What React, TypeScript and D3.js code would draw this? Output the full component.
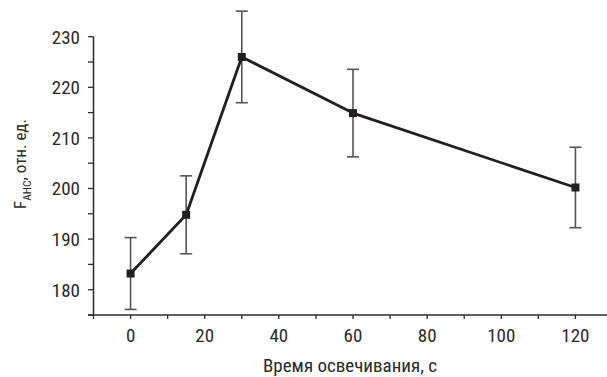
import React from "react";
import * as d3 from "d3";

// Irradiation time, s
const times = [0, 15, 30, 60, 120];
// Mean F_AHC, rel. units
const means = [183.2, 194.8, 226.0, 214.9, 200.2];
// Error bar half-widths
const errors = [7.1, 7.7, 9.05, 8.65, 7.95];

const yMajorTicks = [180, 190, 200, 210, 220, 230];
const yMinorTicks = [175, 185, 195, 205, 215, 225];
const xLabelTicks = [0, 20, 40, 60, 80, 100, 120];
const xMinorTicks = [-10, 10, 30, 50, 70, 90, 110];

const W = 607;
const H = 377;
const FONT = "'Liberation Sans Narrow', 'Arial Narrow', 'Roboto Condensed', 'Liberation Sans', sans-serif";

export default function App() {
  const x = d3.scaleLinear().domain([-10, 130]).range([93.5, 612.5]);
  const y = d3.scaleLinear().domain([175, 230]).range([315, 36.7]);

  const pts = times.map((t, i) => ({ t, m: means[i], e: errors[i] }));
  const line = d3
    .line<{ t: number; m: number }>()
    .x((d) => x(d.t))
    .y((d) => y(d.m));

  const axisColor = "#2b2b2b";
  const textColor = "#2a2a2a";
  const x0 = x(-10);
  const yBase = y(175);

  return (
    <svg
      width={W}
      height={H}
      style={{ position: "absolute", left: 0, top: 0, background: "#fff" }}
      fontFamily={FONT}
    >
      {/* Y axis */}
      <line x1={x0} x2={x0} y1={y(230)} y2={yBase} stroke={axisColor} strokeWidth={1.5} />
      {yMajorTicks.concat(yMinorTicks).map((v) => (
        <line key={"yt" + v} x1={x0 - 5.5} x2={x0} y1={y(v)} y2={y(v)} stroke={axisColor} strokeWidth={1.3} />
      ))}
      {yMajorTicks.map((v) => (
        <text key={"yl" + v} x={80} y={y(v)} dy="0.36em" textAnchor="end" fontSize={19} fill={textColor}>
          {v}
        </text>
      ))}

      {/* X axis */}
      <line x1={x0 - 5.5} x2={W} y1={yBase} y2={yBase} stroke={axisColor} strokeWidth={1.5} />
      {xLabelTicks.concat(xMinorTicks).map((v) => (
        <line key={"xt" + v} x1={x(v)} x2={x(v)} y1={yBase} y2={yBase + 4} stroke={axisColor} strokeWidth={1.3} />
      ))}
      {xLabelTicks.map((v) => (
        <text key={"xl" + v} x={x(v)} y={341.5} textAnchor="middle" fontSize={19} fill={textColor}>
          {v}
        </text>
      ))}

      {/* Axis titles */}
      <text x={350} y={372} textAnchor="middle" fontSize={19} fill={textColor}>
        Время освечивания, с
      </text>
      <text transform="translate(25.5,164) rotate(-90)" textAnchor="middle" fontSize={17} fill={textColor}>
        F<tspan fontSize={11.5} dy={5}>AHC</tspan>
        <tspan dy={-5}>, отн. ед.</tspan>
      </text>

      {/* Error bars */}
      {pts.map((d) => (
        <g key={"e" + d.t} stroke="#555" strokeWidth={1.6}>
          <line x1={x(d.t)} x2={x(d.t)} y1={y(d.m + d.e)} y2={y(d.m - d.e)} />
          <line x1={x(d.t) - 6} x2={x(d.t) + 6} y1={y(d.m + d.e)} y2={y(d.m + d.e)} />
          <line x1={x(d.t) - 6} x2={x(d.t) + 6} y1={y(d.m - d.e)} y2={y(d.m - d.e)} />
        </g>
      ))}

      {/* Mean curve */}
      <path d={line(pts) || ""} fill="none" stroke="#231f20" strokeWidth={2.8} strokeLinejoin="round" />
      {pts.map((d) => (
        <rect key={"m" + d.t} x={x(d.t) - 4} y={y(d.m) - 4} width={8} height={8} fill="#231f20" />
      ))}
    </svg>
  );
}
